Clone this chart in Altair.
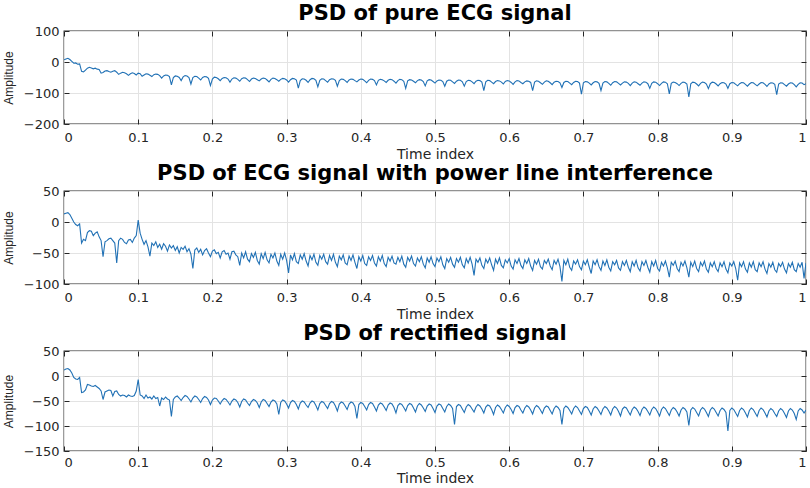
import altair as alt
import pandas as pd

# ---------------- data ----------------
TITLES = [
    "PSD of pure ECG signal",
    "PSD of ECG signal with power line interference",
    "PSD of rectified signal",
]
X_TICKS = [0, 0.1, 0.2, 0.3, 0.4, 0.5, 0.6, 0.7, 0.8, 0.9, 1]
Y1_TICKS = [-200, -100, 0, 100]
Y2_TICKS = [-100, -50, 0, 50]
Y3_TICKS = [-150, -100, -50, 0, 50]
Y1_DOMAIN = [-200, 100]
Y2_DOMAIN = [-100, 50]
Y3_DOMAIN = [-150, 50]

# PSD of pure ECG signal (amplitude, evenly spaced over the time index 0..1)
PURE = [
    7, 10, 12, 8, 2, -4, -3, -7, -6, -30,
    -32, -26, -20, -17, -19, -22, -20, -23, -24, -36,
    -34, -29, -28, -31, -33, -30, -28, -33, -40, -36,
    -33, -35, -38, -43, -38, -35, -37, -42, -36, -38,
    -46, -42, -38, -39, -43,
    -47, -41, -39, -40, -44,
    -52, -45, -42, -43, -47,
    -74, -50, -45, -46, -50,
    -60, -48, -44, -45, -50,
    -71, -50, -46, -47, -52,
    -58, -50, -47, -48, -53,
    -76, -55, -49, -50, -54,
    -60, -53, -50, -51, -55,
    -65, -55, -51, -52, -56,
    -62, -54, -51, -52, -57,
    -63, -55, -52, -53, -57,
    -61, -55, -52, -53, -58,
    -64, -56, -52, -53, -57,
    -62, -56, -53, -54, -58,
    -65, -57, -53, -54, -58,
    -84, -60, -54, -55, -59,
    -66, -57, -53, -54, -59,
    -80, -59, -54, -55, -60,
    -65, -57, -54, -55, -59,
    -78, -60, -55, -56, -60,
    -66, -58, -55, -56, -60,
    -64, -58, -55, -56, -61,
    -67, -59, -55, -56, -60,
    -74, -59, -56, -57, -61,
    -66, -59, -56, -57, -62,
    -68, -60, -56, -57, -62,
    -85, -61, -57, -58, -62,
    -67, -60, -57, -58, -63,
    -77, -61, -57, -58, -63,
    -68, -61, -58, -59, -63,
    -78, -62, -58, -59, -64,
    -69, -62, -58, -59, -64,
    -78, -63, -59, -60, -64,
    -70, -62, -59, -60, -65,
    -92, -64, -59, -60, -65,
    -70, -63, -60, -61, -65,
    -71, -63, -60, -61, -66,
    -72, -64, -60, -61, -66,
    -70, -64, -61, -62, -66,
    -92, -65, -61, -62, -67,
    -72, -65, -61, -62, -67,
    -73, -65, -62, -63, -67,
    -82, -66, -62, -63, -68,
    -73, -66, -62, -63, -68,
    -104, -67, -63, -64, -68,
    -74, -67, -63, -64, -69,
    -92, -68, -63, -64, -69,
    -75, -67, -63, -64, -69,
    -74, -68, -64, -65, -69,
    -76, -68, -64, -65, -70,
    -75, -68, -64, -65, -70,
    -85, -69, -64, -65, -70,
    -76, -69, -64, -65, -70,
    -103, -69, -65, -66, -70,
    -76, -69, -65, -66, -71,
    -113, -70, -65, -66, -71,
    -77, -69, -65, -66, -71,
    -86, -70, -65, -66, -71,
    -77, -70, -66, -67, -71,
    -85, -70, -66, -67, -72,
    -77, -70, -66, -67, -72,
    -78, -71, -66, -67, -72,
    -77, -71, -66, -67, -72,
    -79, -71, -67, -68, -72,
    -105, -71, -67, -68, -73,
    -78, -71, -67, -68, -73,
    -80, -72, -67, -68, -73,
    -70,
]

# PSD of ECG signal with power line interference
PLI = [
    13, 14, 15, 12, 6, 0, -4, -6, -3, -34,
    -28, -30, -17, -14, -15, -22, -18, -16, -24, -30,
    -56, -32, -30, -27, -26, -30, -34, -66, -30, -26,
    -28, -33, -35, -29, -28, -33, -26, -22, 3, -18,
    -28, -36, -30, -40, -55, -34, -38, -32, -41, -36,
    -44, -35, -39, -47, -37, -42, -38, -46, -40, -50,
    -41, -44, -39, -48, -43, -52, -75, -45, -42, -49,
    -44, -53, -46, -43, -50, -56, -47, -45, -51, -49,
    -58, -48, -46, -52, -50, -60, -48, -47, -53, -56,
    -70, -50, -58, -48, -60,
    -64, -51, -57, -49, -62,
    -68, -51, -59, -49, -61,
    -66, -52, -58, -50, -63,
    -70, -52, -60, -50, -62,
    -82, -53, -61, -51, -64,
    -67, -53, -60, -51, -63,
    -71, -54, -61, -52, -65,
    -70, -54, -60, -52, -64,
    -68, -54, -62, -52, -65,
    -72, -55, -61, -53, -66,
    -69, -55, -62, -53, -65,
    -75, -56, -63, -54, -67,
    -70, -56, -62, -54, -66,
    -71, -56, -63, -54, -67,
    -72, -57, -63, -55, -66,
    -68, -57, -64, -55, -68,
    -73, -57, -63, -55, -67,
    -71, -58, -64, -56, -68,
    -74, -58, -65, -56, -67,
    -72, -58, -64, -56, -69,
    -75, -59, -65, -57, -68,
    -73, -59, -65, -57, -69,
    -74, -59, -66, -57, -68,
    -86, -60, -65, -58, -70,
    -75, -60, -66, -58, -69,
    -78, -60, -67, -58, -70,
    -74, -61, -66, -59, -71,
    -76, -61, -67, -59, -70,
    -75, -61, -67, -59, -71,
    -78, -62, -68, -60, -72,
    -76, -62, -67, -60, -71,
    -77, -62, -68, -60, -72,
    -96, -62, -69, -60, -73,
    -78, -63, -68, -61, -72,
    -77, -63, -69, -61, -73,
    -83, -63, -69, -61, -72,
    -78, -63, -70, -61, -73,
    -79, -64, -69, -62, -74,
    -78, -64, -70, -62, -73,
    -80, -64, -71, -62, -74,
    -79, -64, -70, -62, -73,
    -81, -64, -71, -62, -75,
    -79, -65, -71, -63, -74,
    -89, -65, -70, -63, -75,
    -80, -65, -71, -63, -74,
    -89, -65, -72, -63, -75,
    -80, -65, -71, -63, -76,
    -81, -66, -72, -64, -75,
    -80, -66, -72, -64, -76,
    -82, -66, -71, -64, -75,
    -94, -66, -72, -64, -76,
    -81, -66, -73, -64, -77,
    -80, -66, -72, -64, -76,
    -83, -67, -73, -65, -77,
    -81, -67, -72, -65, -76,
    -82, -67, -73, -65, -77,
    -80, -67, -73, -65, -91,
    -66,
]

# PSD of rectified signal
RECT = [
    12, 14, 15, 12, 6, -3, -6, -7, -3, -33,
    -32, -28, -17, -18, -20, -21, -19, -22, -25, -30,
    -47, -32, -30, -28, -29, -40, -31, -30, -37, -40,
    -38, -39, -42, -38, -40, -41, -39, -30, -7, -38,
    -40, -45, -38, -44, -42, -46, -40, -45, -43, -60,
    -44, -47, -42, -46, -48, -81, -47, -42, -40, -44,
    -49, -43, -39, -41, -46, -52, -44, -40, -42, -47,
    -53, -45, -41, -43, -48, -57, -48, -44, -45, -50,
    -56, -49, -45, -47, -52,
    -58, -50, -46, -48, -53,
    -62, -51, -46, -48, -54,
    -59, -51, -47, -49, -54,
    -63, -52, -47, -49, -55,
    -61, -52, -48, -50, -56,
    -77, -53, -48, -50, -56,
    -64, -53, -49, -51, -57,
    -66, -54, -50, -52, -58,
    -63, -54, -50, -52, -59,
    -68, -55, -51, -53, -59,
    -65, -55, -51, -53, -60,
    -70, -56, -52, -54, -60,
    -67, -56, -52, -54, -61,
    -85, -57, -53, -55, -61,
    -68, -57, -53, -55, -62,
    -70, -58, -54, -56, -62,
    -69, -58, -54, -56, -63,
    -74, -59, -55, -57, -63,
    -70, -59, -55, -57, -64,
    -72, -60, -55, -58, -64,
    -71, -60, -56, -58, -65,
    -73, -60, -56, -58, -65,
    -72, -61, -56, -59, -65,
    -97, -61, -57, -59, -66,
    -73, -62, -57, -60, -66,
    -72, -62, -57, -60, -66,
    -74, -62, -58, -60, -67,
    -77, -63, -58, -61, -67,
    -74, -63, -58, -61, -67,
    -75, -63, -59, -61, -68,
    -74, -64, -59, -62, -68,
    -76, -64, -59, -62, -68,
    -75, -64, -60, -62, -69,
    -76, -65, -60, -63, -69,
    -97, -65, -60, -63, -69,
    -76, -65, -60, -63, -70,
    -77, -65, -61, -63, -70,
    -78, -66, -61, -64, -70,
    -77, -66, -61, -64, -70,
    -78, -66, -61, -64, -71,
    -80, -66, -62, -64, -71,
    -78, -67, -62, -65, -71,
    -79, -67, -62, -65, -71,
    -78, -67, -62, -65, -72,
    -80, -67, -62, -65, -72,
    -79, -68, -63, -66, -72,
    -80, -68, -63, -66, -72,
    -99, -68, -63, -66, -73,
    -80, -68, -63, -66, -73,
    -81, -68, -63, -66, -73,
    -80, -69, -64, -67, -73,
    -110, -69, -64, -67, -74,
    -81, -69, -64, -67, -74,
    -82, -69, -64, -67, -74,
    -81, -69, -64, -67, -74,
    -82, -70, -65, -68, -75,
    -81, -70, -65, -68, -75,
    -83, -70, -65, -68, -75,
    -87, -70, -65, -68, -74,
    -68,
]

# ---------------- styling ----------------
LINE = "#2171b5"
INK = "#262626"
GRID = "#e3e3e3"
PLOT_W = 742


def panel(vals, title, ydom, yticks, h, lab_pad, tit_pad):
    n = len(vals)
    df = pd.DataFrame({"t": [i / (n - 1) for i in range(n)], "v": vals})
    xs = alt.Scale(domain=[0, 1], nice=False, zero=False)
    ys = alt.Scale(domain=ydom, nice=False, zero=False)
    main = alt.Chart(df).mark_line(color=LINE, strokeWidth=1.1, clip=True).encode(
        x=alt.X(
            "t:Q",
            scale=xs,
            axis=alt.Axis(
                values=X_TICKS, format=".1~f", title="Time index", orient="bottom",
                offset=-5, tickSize=5, labelPadding=lab_pad, titlePadding=tit_pad,
                domain=False, grid=True,
            ),
        ),
        y=alt.Y(
            "v:Q",
            scale=ys,
            axis=alt.Axis(
                values=yticks, title="Amplitude", orient="left",
                offset=-5, tickSize=5, labelPadding=5, titlePadding=8,
                domain=False, grid=True,
                titleFont="Liberation Sans", titleFontSize=12,
            ),
        ),
    )
    ticks = alt.Chart(df).mark_line(opacity=0).encode(
        x=alt.X(
            "t:Q", scale=xs,
            axis=alt.Axis(values=X_TICKS, orient="top", offset=-5, tickSize=5,
                          labels=False, title=None, domain=False, grid=False),
        ),
        y=alt.Y(
            "v:Q", scale=ys,
            axis=alt.Axis(values=yticks, orient="right", offset=-5, tickSize=5,
                          labels=False, title=None, domain=False, grid=False),
        ),
    )
    return alt.layer(main, ticks).properties(
        width=PLOT_W,
        height=h,
        title=alt.Title(title, font="DejaVu Sans", fontSize=21, fontWeight="bold",
                        color="black", offset=1, anchor="middle"),
    )


p1 = panel(PURE, TITLES[0], Y1_DOMAIN, Y1_TICKS, 93, 7, 3)
p2 = panel(PLI, TITLES[1], Y2_DOMAIN, Y2_TICKS, 93, 7, 3)
p3 = panel(RECT, TITLES[2], Y3_DOMAIN, Y3_TICKS, 100, 5, 2)

chart = (
    alt.vconcat(p1, p2, p3, spacing=0)
    .properties(padding={"left": 1, "top": 2, "right": 0, "bottom": 0}, background="white")
    .configure_view(stroke=INK, strokeWidth=1.3)
    .configure_axis(
        labelFont="DejaVu Sans", labelFontSize=13, labelColor=INK,
        tickColor=INK, tickWidth=1,
        titleFont="DejaVu Sans", titleFontSize=14, titleFontWeight="normal",
        titleColor=INK, gridColor=GRID, gridWidth=1,
    )
)

chart.save("out.html", embed_options={"renderer": "svg", "actions": False})
